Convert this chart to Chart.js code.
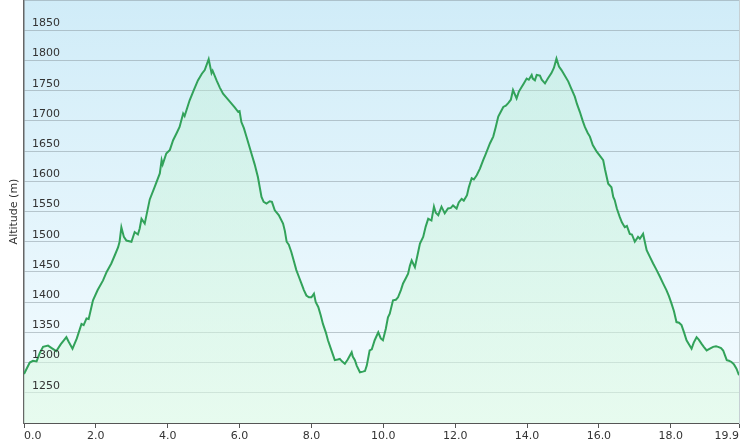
<!DOCTYPE html>
<html>
<head>
<meta charset="utf-8">
<script src="https://cdn.jsdelivr.net/npm/chart.js@4/dist/chart.umd.min.js"></script>
<style>
  html, body { margin: 0; padding: 0; background: #ffffff; }
  #wrap { width: 748px; height: 448px; position: relative; }
</style>
</head>
<body>
<div id="wrap"><canvas id="c" width="748" height="448"></canvas></div>
<script>
// Distance along the route (km)
const distanceKm = [
  0.00, 0.16, 0.25, 0.35, 0.44, 0.53, 0.67, 0.77, 0.90, 1.02, 1.18, 1.24, 1.35, 1.47, 1.60, 1.66, 1.74, 1.80, 1.92,
  2.05, 2.20, 2.30, 2.43, 2.53, 2.62, 2.66, 2.71, 2.78, 2.85, 2.99, 3.08, 3.17, 3.22, 3.27, 3.36, 3.50, 3.64, 3.78,
  3.83, 3.86, 3.96, 4.06, 4.15, 4.25, 4.33, 4.43, 4.47, 4.61, 4.72, 4.84, 4.95, 5.03, 5.14, 5.22, 5.25, 5.36, 5.45,
  5.54, 5.64, 5.77, 5.87, 5.96, 6.00, 6.05, 6.12, 6.19, 6.26, 6.33, 6.42, 6.51, 6.61, 6.67, 6.75, 6.84, 6.90, 6.98,
  7.09, 7.21, 7.26, 7.31, 7.37, 7.44, 7.51, 7.58, 7.65, 7.72, 7.79, 7.86, 7.93, 8.00, 8.07, 8.12, 8.19, 8.26, 8.32,
  8.40, 8.46, 8.54, 8.65, 8.73, 8.79, 8.85, 8.93, 9.01, 9.12, 9.15, 9.21, 9.26, 9.35, 9.43, 9.49, 9.54, 9.62, 9.68,
  9.76, 9.86, 9.93, 9.99, 10.07, 10.13, 10.18, 10.27, 10.35, 10.41, 10.49, 10.55, 10.63, 10.69, 10.74, 10.79, 10.88,
  10.96, 11.02, 11.11, 11.18, 11.25, 11.34, 11.41, 11.46, 11.53, 11.62, 11.71, 11.80, 11.88, 11.94, 12.04, 12.10,
  12.18, 12.24, 12.33, 12.38, 12.46, 12.52, 12.60, 12.69, 12.78, 12.85, 12.97, 13.06, 13.13, 13.20, 13.27, 13.34,
  13.41, 13.47, 13.55, 13.61, 13.71, 13.77, 13.85, 13.91, 13.99, 14.05, 14.13, 14.16, 14.22, 14.27, 14.36, 14.41,
  14.50, 14.58, 14.68, 14.75, 14.82, 14.89, 14.96, 15.05, 15.15, 15.22, 15.33, 15.39, 15.47, 15.55, 15.61, 15.69,
  15.75, 15.83, 15.94, 16.03, 16.12, 16.17, 16.26, 16.35, 16.40, 16.44, 16.50, 16.58, 16.64, 16.72, 16.78, 16.86,
  16.92, 17.00, 17.09, 17.14, 17.23, 17.33, 17.42, 17.51, 17.59, 17.70, 17.78, 17.88, 17.95, 18.02, 18.09, 18.16,
  18.23, 18.30, 18.37, 18.44, 18.51, 18.58, 18.64, 18.72, 18.78, 18.86, 18.92, 19.00, 19.09, 19.18, 19.26, 19.32,
  19.40, 19.46, 19.51, 19.56, 19.62, 19.69, 19.76, 19.83, 19.90
];
// Altitude (m)
const altitudeM = [
  1281, 1300, 1303, 1302, 1316, 1326, 1328, 1324, 1319, 1330, 1342, 1335, 1323, 1340, 1364, 1362, 1373, 1372, 1403,
  1420, 1436, 1450, 1464, 1478, 1491, 1500, 1524, 1508, 1502, 1500, 1516, 1512, 1522, 1538, 1530, 1570, 1591, 1613,
  1635, 1628, 1646, 1652, 1668, 1680, 1690, 1712, 1708, 1734, 1750, 1767, 1778, 1784, 1802, 1779, 1783, 1767, 1755,
  1745, 1738, 1729, 1722, 1715, 1716, 1698, 1688, 1674, 1660, 1646, 1628, 1607, 1574, 1566, 1563, 1567, 1566, 1552,
  1544, 1530, 1518, 1500, 1495, 1483, 1468, 1453, 1442, 1431, 1420, 1411, 1408, 1408, 1414, 1400, 1392, 1378, 1364,
  1350, 1337, 1323, 1304, 1305, 1306, 1302, 1298, 1305, 1317, 1310, 1304, 1295, 1284, 1285, 1286, 1295, 1320, 1322,
  1337, 1350, 1340, 1337, 1356, 1375, 1381, 1403, 1404, 1408, 1420, 1431, 1440, 1447, 1460, 1469, 1458,
  1480, 1497, 1508, 1525, 1538, 1535, 1558, 1548, 1544, 1558, 1547, 1555, 1556, 1560, 1555, 1565,
  1571, 1568, 1577, 1590, 1605, 1603, 1610, 1621, 1635, 1645, 1663, 1674, 1690, 1707, 1715, 1723,
  1725, 1729, 1735, 1751, 1737, 1748, 1756, 1762, 1770, 1768, 1776, 1770, 1767, 1776, 1775, 1768,
  1762, 1770, 1779, 1788, 1803, 1790, 1784, 1775, 1765, 1755, 1740, 1728, 1715, 1700, 1690, 1680,
  1674, 1660, 1649, 1642, 1635, 1620, 1596, 1590, 1574, 1569, 1555, 1541, 1532, 1524, 1526, 1513,
  1512, 1500, 1508, 1505, 1513, 1486, 1475, 1464, 1455, 1442, 1432, 1420, 1410, 1398, 1385, 1367,
  1366, 1362, 1350, 1337, 1330, 1323, 1333, 1342, 1338, 1331, 1326, 1320, 1323, 1326, 1327, 1326,
  1324, 1320, 1312, 1304, 1303, 1301, 1297, 1290, 1279
];
// Axis tick values
const xTickValues = [0, 2, 4, 6, 8, 10, 12, 14, 16, 18, 19.9];
const yMin = 1200, yMax = 1900, yStep = 50;
const yAxisTitle = 'Altitude (m)';

const points = distanceKm.map((d, i) => ({ x: d, y: altitudeM[i] }));
const FONT = "'DejaVu Sans', Verdana, sans-serif";

const bgPlugin = {
  id: 'plotBg',
  beforeDraw(chart) {
    const { ctx, chartArea: a } = chart;
    if (!a) return;
    const g = ctx.createLinearGradient(0, a.top, 0, a.bottom);
    g.addColorStop(0, '#d0ecf8');
    g.addColorStop(1, '#f5fcff');
    ctx.save();
    ctx.fillStyle = g;
    ctx.fillRect(a.left, a.top, a.right - a.left, a.bottom - a.top);
    ctx.restore();
  }
};

function noVPad(scale) { scale.paddingTop = 0; scale.paddingBottom = 0; }

new Chart(document.getElementById('c'), {
  type: 'line',
  data: {
    datasets: [{
      data: points,
      borderColor: '#32a25a',
      borderWidth: 2,
      pointRadius: 0,
      tension: 0,
      fill: 'start',
      backgroundColor(ctx) {
        const a = ctx.chart.chartArea;
        if (!a) return 'rgba(200,245,215,0.5)';
        const g = ctx.chart.ctx.createLinearGradient(0, a.top, 0, a.bottom);
        g.addColorStop(0, 'rgba(185,240,205,0.3)');
        g.addColorStop(1, 'rgba(222,250,228,0.6)');
        return g;
      }
    }]
  },
  options: {
    responsive: false,
    animation: false,
    layout: { padding: { left: 0, right: 9, top: 0, bottom: 0 } },
    plugins: { legend: { display: false }, tooltip: { enabled: false } },
    scales: {
      x: {
        type: 'linear',
        min: 0,
        max: 19.9,
        afterBuildTicks(scale) { scale.ticks = xTickValues.map(v => ({ value: v })); },
        afterFit(scale) { scale.height = 25; scale.paddingLeft = 0; scale.paddingRight = 0; },
        ticks: {
          align: 'inner',
          autoSkip: false,
          maxRotation: 0,
          padding: 2,
          color: '#333333',
          font: { family: FONT, size: 11 },
          callback: v => Number(v).toFixed(1)
        },
        grid: { drawOnChartArea: false, drawTicks: true, tickLength: 5, tickColor: '#555555', tickWidth: 1 },
        border: { color: '#555555', width: 1 }
      },
      y: {
        min: yMin,
        max: yMax,
        afterFit(scale) { scale.width = 24; noVPad(scale); },
        ticks: {
          z: 1,
          stepSize: yStep,
          mirror: true,
          padding: 8,
          labelOffset: -7,
          color: '#333333',
          font: { family: FONT, size: 11 },
          callback: v => (v === yMin || v === yMax) ? '' : String(v)
        },
        grid: { color: 'rgba(135,150,158,0.5)', lineWidth: 1, drawTicks: false },
        border: { color: '#666666', width: 1.5 },
        title: {
          display: true,
          text: yAxisTitle,
          color: '#333333',
          font: { family: FONT, size: 11 },
          padding: { top: 8, bottom: 0 }
        }
      },
      y2: {
        position: 'right',
        min: yMin,
        max: yMax,
        afterFit(scale) { scale.width = 0; noVPad(scale); },
        ticks: { display: false },
        grid: { display: false, drawTicks: false },
        border: { color: '#c6d0d4', width: 1 }
      }
    }
  },
  plugins: [bgPlugin]
});
</script>
</body>
</html>
